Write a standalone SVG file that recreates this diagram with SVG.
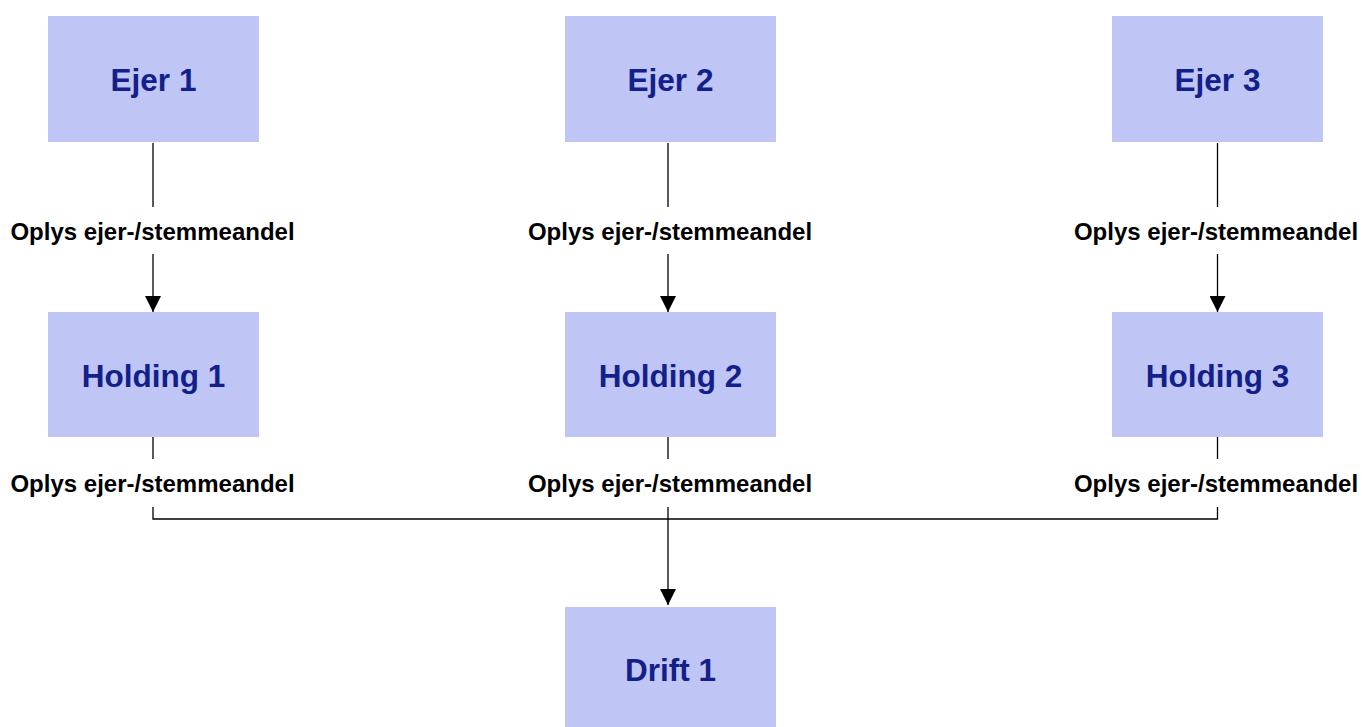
<svg xmlns="http://www.w3.org/2000/svg" width="1362" height="727" viewBox="0 0 1362 727">
<style>
.box{fill:#BFC6F5;}
.t{font-family:"Liberation Sans",Arial,sans-serif;font-weight:bold;font-size:31.5px;fill:#13208A;text-anchor:middle;}
.l{font-family:"Liberation Sans",Arial,sans-serif;font-weight:bold;font-size:24px;fill:#000;text-anchor:middle;}
.c{stroke:#000;stroke-width:1.3;fill:none;}
</style>
<defs>
<marker id="ah" markerUnits="userSpaceOnUse" markerWidth="16" markerHeight="16" refX="16" refY="8" orient="auto" viewBox="0 0 16 16">
<path d="M0,0 L16,8 L0,16 Z" fill="#000"/>
</marker>
</defs>
<rect width="1362" height="727" fill="#fff"/>
<g id="ejer1"><rect class="box" x="48" y="16" width="211" height="126"/><text class="t" x="153.5" y="90.5">Ejer 1</text></g>
<g id="ejer2"><rect class="box" x="565" y="16" width="211" height="126"/><text class="t" x="670.5" y="90.5">Ejer 2</text></g>
<g id="ejer3"><rect class="box" x="1112" y="16" width="211" height="126"/><text class="t" x="1217.5" y="90.5">Ejer 3</text></g>
<g id="holding1"><rect class="box" x="48" y="312" width="211" height="125"/><text class="t" x="153.5" y="386.5">Holding 1</text></g>
<g id="holding2"><rect class="box" x="565" y="312" width="211" height="125"/><text class="t" x="670.5" y="386.5">Holding 2</text></g>
<g id="holding3"><rect class="box" x="1112" y="312" width="211" height="125"/><text class="t" x="1217.5" y="386.5">Holding 3</text></g>
<g id="drift1"><rect class="box" x="565" y="607" width="211" height="126"/><text class="t" x="670.5" y="681">Drift 1</text></g>
<g id="connectors">
<line class="c" x1="153" y1="143" x2="153" y2="207"/>
<line class="c" x1="153" y1="254" x2="153" y2="312" marker-end="url(#ah)"/>
<line class="c" x1="668" y1="143" x2="668" y2="207"/>
<line class="c" x1="668" y1="254" x2="668" y2="312" marker-end="url(#ah)"/>
<line class="c" x1="1217.5" y1="143" x2="1217.5" y2="207"/>
<line class="c" x1="1217.5" y1="254" x2="1217.5" y2="312" marker-end="url(#ah)"/>
<line class="c" x1="153" y1="437" x2="153" y2="459"/>
<line class="c" x1="668" y1="437" x2="668" y2="459"/>
<line class="c" x1="1217.5" y1="437" x2="1217.5" y2="459"/>
<polyline class="c" points="153,507 153,519 1217.5,519 1217.5,507"/>
<line class="c" x1="668" y1="507" x2="668" y2="605" marker-end="url(#ah)"/>
<text class="l" x="152.5" y="240">Oplys ejer-/stemmeandel</text>
<text class="l" x="670" y="240">Oplys ejer-/stemmeandel</text>
<text class="l" x="1216" y="240">Oplys ejer-/stemmeandel</text>
<text class="l" x="152.5" y="492">Oplys ejer-/stemmeandel</text>
<text class="l" x="670" y="492">Oplys ejer-/stemmeandel</text>
<text class="l" x="1216" y="492">Oplys ejer-/stemmeandel</text>
</g>
</svg>
